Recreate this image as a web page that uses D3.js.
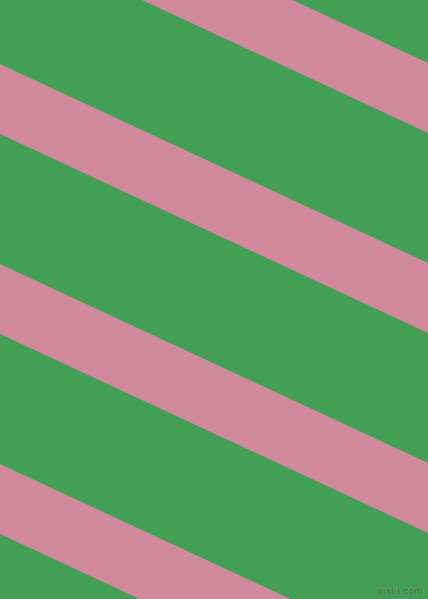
<!DOCTYPE html>
<html>
<head>
<meta charset="utf-8">
<script src="https://cdn.jsdelivr.net/npm/d3@7"></script>
<style>
  html, body { margin: 0; padding: 0; background: #fff; }
  svg { display: block; }
</style>
</head>
<body>
<svg id="chart" width="428" height="599"></svg>
<script>
// stripe edges, read where they cross the left (x=0) and right (x=428) borders
const stripeTopLeft = [-136, 64, 264, 464];
const stripeBottomLeft = [-66, 134, 334, 534];
const stripeTopRight = [63, 263, 463, 663];
const stripeBottomRight = [133, 333, 533, 733];
const stripes = stripeTopLeft.map((d, i) => ({
  tl: d, bl: stripeBottomLeft[i], tr: stripeTopRight[i], br: stripeBottomRight[i]
}));

const svg = d3.select('#chart');
const width = +svg.attr('width');
const height = +svg.attr('height');

const x = d3.scaleLinear().domain([0, 428]).range([0, width]);
const y = d3.scaleLinear().domain([0, 599]).range([0, height]);

// background
svg.append('rect')
  .attr('width', width)
  .attr('height', height)
  .attr('fill', '#439f55');

const line = d3.line().x((p) => x(p[0])).y((p) => y(p[1]));

svg.selectAll('.stripe')
  .data(stripes)
  .enter()
  .append('path')
  .attr('class', 'stripe')
  .attr('d', (d) => line([[0, d.tl], [428, d.tr], [428, d.br], [0, d.bl]]) + 'Z')
  .attr('fill', '#d18a9d');

// watermark
svg.append('text')
  .attr('x', width - 5)
  .attr('y', height - 5)
  .attr('text-anchor', 'end')
  .attr('font-family', 'DejaVu Sans, sans-serif')
  .attr('font-size', 9)
  .attr('fill', '#4a5a4c')
  .attr('stroke', '#7fbf8a')
  .attr('stroke-width', 0.4)
  .attr('paint-order', 'stroke')
  .text('pixlis.com');
</script>
</body>
</html>
